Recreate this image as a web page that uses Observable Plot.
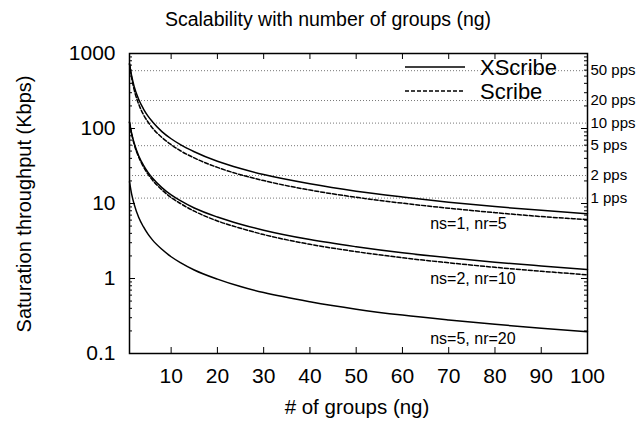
<!DOCTYPE html>
<html>
<head>
<meta charset="utf-8">
<script src="https://cdn.jsdelivr.net/npm/d3@7"></script>
<script src="https://cdn.jsdelivr.net/npm/@observablehq/plot@0.6"></script>
<style>
  html, body { margin: 0; padding: 0; background: #fff; }
  #chart { width: 637px; height: 423px; }
</style>
</head>
<body>
<div id="chart"></div>
<script>
// ---- data ----
const ng = [1, 1.5, 2, 3, 4, 5, 6, 8, 10, 12, 15, 20, 25, 30, 40, 50, 60, 70, 80, 90, 100];
const xscribeNs1 = [730, 490, 365, 243, 183, 146, 122, 91, 73, 61, 49, 36.5, 29.2, 24.3, 18.3, 14.6, 12.2, 10.4, 9.1, 8.1, 7.3];
const scribeNs1  = [725, 460, 330, 210, 154, 122, 101, 76, 61, 50.5, 40.5, 30.3, 24.2, 20.2, 15.1, 12.1, 10.1, 8.65, 7.55, 6.7, 6.1];
const xscribeNs2 = [122, 84, 64, 43, 32.5, 26, 21.7, 16.3, 13, 10.9, 8.7, 6.6, 5.3, 4.4, 3.3, 2.65, 2.2, 1.89, 1.65, 1.47, 1.32];
const scribeNs2  = [121, 83, 62, 41.5, 31, 24.6, 20.4, 15.2, 12.0, 10.0, 7.9, 5.85, 4.68, 3.85, 2.86, 2.28, 1.89, 1.62, 1.41, 1.25, 1.12];
const xscribeNs5 = [19.5, 13, 9.8, 6.5, 4.9, 3.9, 3.25, 2.45, 1.95, 1.63, 1.3, 0.98, 0.78, 0.65, 0.49, 0.39, 0.325, 0.28, 0.245, 0.217, 0.195];

const ppsLabels = ["50 pps", "20 pps", "10 pps", "5 pps", "2 pps", "1 pps"];
const ppsKbps   = [590, 236, 118, 59, 23.6, 11.8];

const curveLabels = ["ns=1, nr=5", "ns=2, nr=10", "ns=5, nr=20"];
const curveLabelX = [66, 66, 66];
const curveLabelY = [5.4, 1.0, 0.155];

const xTicks = [10, 20, 30, 40, 50, 60, 70, 80, 90, 100];
const yMajor = [0.1, 1, 10, 100, 1000];
const yMinor = [0.2,0.3,0.4,0.5,0.6,0.7,0.8,0.9, 2,3,4,5,6,7,8,9, 20,30,40,50,60,70,80,90, 200,300,400,500,600,700,800,900];

// ---- build table ----
const seriesDefs = [
  {proto: "XScribe", group: "ns1", values: xscribeNs1},
  {proto: "Scribe",  group: "ns1", values: scribeNs1},
  {proto: "XScribe", group: "ns2", values: xscribeNs2},
  {proto: "Scribe",  group: "ns2", values: scribeNs2},
  {proto: "XScribe", group: "ns5", values: xscribeNs5}
];
const rows = [];
for (const s of seriesDefs) s.values.forEach((v, i) => rows.push({ng: ng[i], v, proto: s.proto, key: s.proto + s.group}));
const solid = rows.filter(d => d.proto === "XScribe");
const dashed = rows.filter(d => d.proto === "Scribe");
const pps = ppsLabels.map((t, i) => ({t, y: ppsKbps[i]}));
const ann = curveLabels.map((t, i) => ({t, x: curveLabelX[i], y: curveLabelY[i]}));

const W = 637, H = 423, mL = 129, mR = 50, mT = 53, mB = 70;
const fw = W - mL - mR, fh = H - mT - mB;
const FONT = "'Liberation Sans', Arial, Helvetica, sans-serif";

const chart = Plot.plot({
  width: W, height: H,
  marginLeft: mL, marginRight: mR, marginTop: mT, marginBottom: mB,
  style: {fontFamily: FONT, background: "#fff", color: "#000", overflow: "visible"},
  x: {type: "linear", domain: [1, 100]},
  y: {type: "log", domain: [0.1, 1000]},
  marks: [
    Plot.ruleY(pps, {y: "y", stroke: "#777", strokeWidth: 1, strokeDasharray: "1,2"}),
    Plot.line(dashed, {x: "ng", y: "v", z: "key", stroke: "#000", strokeWidth: 1.5, strokeDasharray: "4,2", curve: "monotone-x"}),
    Plot.line(solid, {x: "ng", y: "v", z: "key", stroke: "#000", strokeWidth: 1.5, curve: "monotone-x"}),
    // inward ticks
    Plot.tickY(yMajor, {y: d => d, insetRight: fw - 6, stroke: "#000", strokeWidth: 1}),
    Plot.tickY(yMinor, {y: d => d, insetRight: fw - 3, stroke: "#000", strokeWidth: 1}),
    Plot.tickY(yMajor, {y: d => d, insetLeft: fw - 6, stroke: "#000", strokeWidth: 1}),
    Plot.tickY(yMinor, {y: d => d, insetLeft: fw - 3, stroke: "#000", strokeWidth: 1}),
    Plot.tickX(xTicks, {x: d => d, insetTop: fh - 6, stroke: "#000", strokeWidth: 1}),
    Plot.tickX(xTicks, {x: d => d, insetBottom: fh - 6, stroke: "#000", strokeWidth: 1}),
    Plot.axisY({ticks: yMajor, tickSize: 0, tickPadding: 14, fontSize: 21, tickFormat: d => String(d), label: null}),
    Plot.axisX({ticks: xTicks, tickSize: 0, tickPadding: 15, fontSize: 21, tickFormat: d => String(d), label: null}),
    Plot.text(pps, {y: "y", text: "t", frameAnchor: "right", textAnchor: "start", dx: 3, fontSize: 15, fill: "#000"}),
    Plot.text(ann, {x: "x", y: "y", text: "t", textAnchor: "start", fontSize: 16, fill: "#000"}),
    Plot.frame({stroke: "#000", strokeWidth: 1.5})
  ]
});

const svg = d3.select(chart);
// title
svg.append("text").attr("x", 328).attr("y", 26).attr("text-anchor", "middle")
  .attr("font-family", FONT).attr("font-size", 19.5).attr("fill", "#000")
  .text("Scalability with number of groups (ng)");
// axis labels
svg.append("text").attr("transform", "translate(31,204) rotate(-90)").attr("text-anchor", "middle")
  .attr("font-family", FONT).attr("font-size", 20).attr("fill", "#000")
  .text("Saturation throughput (Kbps)");
svg.append("text").attr("x", 357).attr("y", 414).attr("text-anchor", "middle")
  .attr("font-family", FONT).attr("font-size", 20.5).attr("fill", "#000")
  .text("# of groups (ng)");
// legend
const legendItems = [{name: "XScribe", dash: null, y: 67}, {name: "Scribe", dash: "4,2", y: 91}];
for (const it of legendItems) {
  const ln = svg.append("line").attr("x1", 405).attr("x2", 465).attr("y1", it.y).attr("y2", it.y)
    .attr("stroke", "#000").attr("stroke-width", 1.4);
  if (it.dash) ln.attr("stroke-dasharray", it.dash);
  svg.append("text").attr("x", 480).attr("y", it.y).attr("dy", "0.35em").attr("text-anchor", "start")
    .attr("font-family", FONT).attr("font-size", 22).attr("fill", "#000").text(it.name);
}
document.getElementById("chart").appendChild(chart);
</script>
</body>
</html>
